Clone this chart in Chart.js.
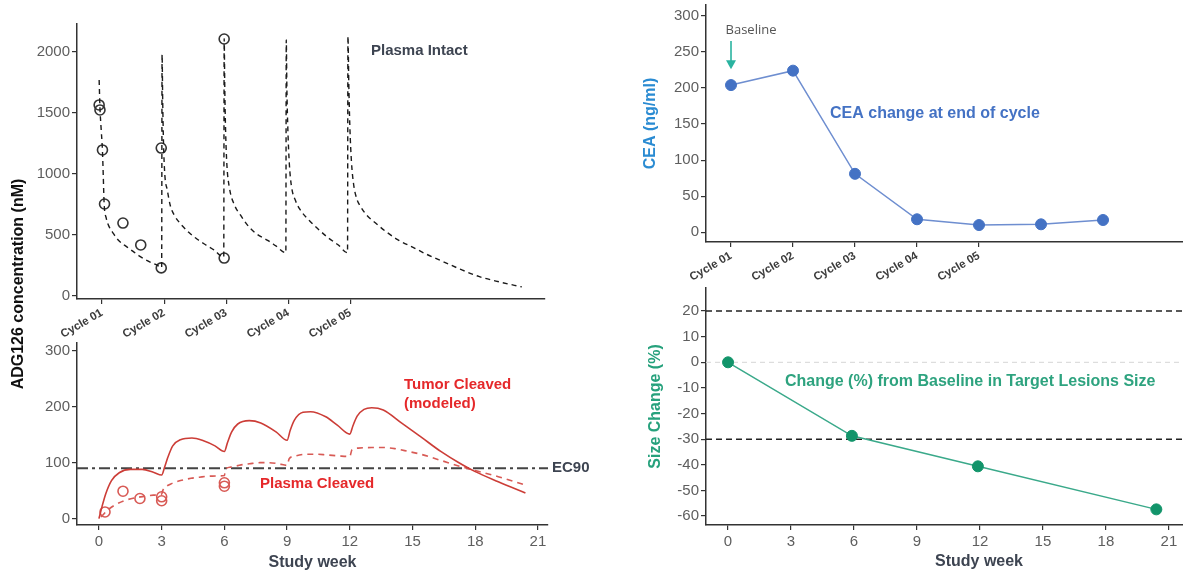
<!DOCTYPE html>
<html><head><meta charset="utf-8">
<script src="https://cdn.jsdelivr.net/npm/chart.js@4.4.1/dist/chart.umd.min.js"></script>
<style>
html,body{margin:0;padding:0;background:#fff;width:1183px;height:579px;overflow:hidden;}
canvas{position:absolute;left:0;top:0;}
</style></head><body>
<canvas id="tl" width="1183" height="579"></canvas>
<canvas id="bl" width="1183" height="579"></canvas>
<canvas id="tr" width="1183" height="579"></canvas>
<canvas id="br" width="1183" height="579"></canvas>
<script>
// ---------- DATA ----------
const cycleLabels = ['Cycle 01', 'Cycle 02', 'Cycle 03', 'Cycle 04', 'Cycle 05'];
const cycleWeeks = [0, 3, 6, 9, 12];
const weekTicks = [0, 3, 6, 9, 12, 15, 18, 21];

const intactTicks = [0, 500, 1000, 1500, 2000];
const intactModelWeeks = [-0.14, -0.1, -0.04, 0.02, 0.06, 0.1, 0.2, 0.35, 0.53, 0.78, 1.2, 1.5, 1.85, 2.3, 2.64, 2.88,
  2.9, 2.93, 2.97, 3.03, 3.15, 3.3, 3.5, 3.8, 4.2, 4.6, 5.0, 5.4, 5.88,
  5.9, 5.93, 5.97, 6.03, 6.15, 6.4, 6.7, 7.1, 7.5, 8.0, 8.4, 8.88,
  8.9, 8.93, 8.98, 9.05, 9.15, 9.35, 9.6, 10.0, 10.4, 10.9, 11.4, 11.86,
  11.88, 11.92, 11.97, 12.05, 12.15, 12.3, 12.5, 12.8, 13.2, 13.7, 14.3, 15.0, 15.7, 16.5, 17.3, 18.2, 19.2, 20.28];
const intactModelValues = [1770, 1540, 1360, 1190, 980, 760, 640, 565, 516, 459, 402, 365, 322, 280, 254, 232,
  1980, 1600, 1250, 1000, 870, 740, 660, 590, 520, 465, 420, 378, 318,
  2110, 1700, 1350, 1080, 890, 745, 660, 566, 505, 456, 410, 355,
  2100, 1700, 1350, 1080, 900, 780, 700, 620, 555, 480, 420, 355,
  2130, 1750, 1400, 1100, 920, 800, 730, 660, 600, 530, 460, 400, 340, 280, 220, 160, 115, 74];
const intactObsWeeks = [-0.14, -0.1, 0.02, 0.12, 1.01, 1.87, 2.86, 2.86, 5.9, 5.9];
const intactObsValues = [1566, 1525, 1197, 754, 598, 418, 230, 1213, 311, 2107];

const cleavedTicks = [0, 100, 200, 300];
const tumorWeeks = [0, 0.15, 0.33, 0.6, 0.97, 1.5, 2.07, 2.6, 3.0, 3.15, 3.3, 3.53, 3.9, 4.45, 5.0, 5.55, 6.0,
  6.15, 6.35, 6.64, 7.19, 7.74, 8.47, 9.0, 9.15, 9.35, 9.76, 10.12, 10.85, 11.4, 12.0,
  12.15, 12.35, 12.68, 13.05, 13.6, 14.5, 15.4, 16.35, 17.3, 18.0, 19.1, 20.4];
const tumorValues = [0, 22, 45, 68, 82, 88, 88, 83, 78, 93, 110, 130, 141, 144, 139, 130, 120,
  136, 155, 169, 175, 171, 155, 140, 158, 176, 190, 191, 182, 167, 151,
  166, 183, 195, 198, 194, 170, 146, 120, 98, 84, 66, 46];
const plasmaWeeks = [0.1, 0.4, 0.79, 1.2, 1.7, 2.2, 2.6, 3.0, 3.05, 3.2, 3.5, 3.9, 4.4, 4.8, 5.4, 6.0,
  6.05, 6.3, 6.8, 7.2, 7.7, 8.1, 8.6, 9.0, 9.1, 9.3, 9.94, 10.4, 10.85, 11.5, 12.0,
  12.1, 12.4, 13.05, 13.6, 14.15, 14.8, 15.4, 16.1, 16.7, 17.3, 18.0, 19.1, 20.4];
const plasmaValues = [3, 15, 25, 32, 37, 40, 42, 44, 50, 57, 63, 68, 72, 74, 76, 77,
  88, 92, 96, 98, 100, 100, 98, 95, 107, 111, 115, 115, 114, 112, 111,
  123, 126, 127, 127, 125, 120, 115, 107, 100, 93, 86, 75, 60];
const plasmaObsWeeks = [0.29, 1.15, 1.96, 3.0, 3.0, 6.0, 6.0];
const plasmaObsValues = [12, 49, 36, 39, 32, 64, 58];
const ec90Value = 90;

const ceaTicks = [0, 50, 100, 150, 200, 250, 300];
const ceaWeeks = [0, 3, 6, 9, 12, 15, 18];
const ceaValues = [204, 224, 81, 18, 10, 11, 17];

const sizeTicks = [20, 10, 0, -10, -20, -30, -40, -50, -60];
const sizeWeeks = [0, 5.9, 11.9, 20.4];
const sizeValues = [0, -28.7, -40.6, -57.4];
const sizeRefLines = [20, -30];

// ---------- HELPERS ----------
const FAM = "'Liberation Sans', Arial, sans-serif";
Chart.defaults.font.family = FAM;
const pts = (xs, ys) => xs.map((x, i) => ({x: x, y: ys[i]}));
const setTicks = vals => scale => { scale.ticks = vals.map(v => ({value: v})); };
const fixW = w => s => { s.width = w; s.paddingTop = 0; s.paddingBottom = 0; s.paddingLeft = 0; s.paddingRight = 0; };
const fixH = h => s => { s.height = h; s.paddingTop = 0; s.paddingBottom = 0; s.paddingLeft = 0; s.paddingRight = 0; };

const annot = {
  id: 'annot',
  beforeDatasetsDraw(chart, args, o) {
    const ctx = chart.ctx, a = chart.chartArea, ys = chart.scales.y;
    (o.hlines || []).forEach(h => {
      const y = ys.getPixelForValue(h.value);
      ctx.save();
      ctx.strokeStyle = h.color; ctx.lineWidth = h.width; ctx.setLineDash(h.dash);
      ctx.beginPath(); ctx.moveTo(a.left, y); ctx.lineTo(a.right, y); ctx.stroke();
      ctx.restore();
    });
  },
  afterDraw(chart, args, o) {
    const ctx = chart.ctx;
    (o.arrows || []).forEach(r => {
      const x = chart.scales.x.getPixelForValue(r.x);
      const y1 = chart.scales.y.getPixelForValue(r.from), y2 = chart.scales.y.getPixelForValue(r.to);
      ctx.save();
      ctx.strokeStyle = r.color; ctx.fillStyle = r.color; ctx.lineWidth = 1.6;
      ctx.beginPath(); ctx.moveTo(x, y1); ctx.lineTo(x, y2 - 8); ctx.stroke();
      ctx.beginPath(); ctx.moveTo(x - 5, y2 - 9); ctx.lineTo(x + 5, y2 - 9); ctx.lineTo(x, y2); ctx.closePath(); ctx.fill();
      ctx.restore();
    });
    (o.texts || []).forEach(t => {
      ctx.save();
      ctx.font = t.font; ctx.fillStyle = t.color;
      ctx.textAlign = t.align || 'left'; ctx.textBaseline = 'middle';
      ctx.translate(t.x, t.y);
      if (t.rot) ctx.rotate(t.rot);
      ctx.fillText(t.text, 0, 0);
      ctx.restore();
    });
  }
};
Chart.register(annot);

const AX = '#333';
function axis(extra) {
  const base = {
    type: 'linear',
    border: {display: true, color: AX, width: 1.5},
    grid: {display: true, drawOnChartArea: false, drawTicks: true, tickLength: 5, color: AX, lineWidth: 1.2},
    ticks: {color: '#5e5e5e', font: {size: 15}, padding: 2, autoSkip: false, callback: v => String(v)}
  };
  return Object.assign(base, extra, {
    ticks: Object.assign(base.ticks, extra.ticks || {})
  });
}
const cycleTickOpts = {color: '#3c3c3c', font: {size: 11.5, weight: 'bold'}, minRotation: 30, maxRotation: 30, padding: 2,
  callback: (v, i) => cycleLabels[i]};
const baseOpts = {responsive: false, animation: false, devicePixelRatio: 1,
  plugins: {legend: {display: false}, tooltip: {enabled: false}}};

function opts(layoutPad, scales, annotOpts) {
  return Object.assign({}, baseOpts, {
    layout: {padding: layoutPad, autoPadding: false},
    scales: scales,
    plugins: Object.assign({}, baseOpts.plugins, {annot: annotOpts})
  });
}

// ---------- TOP LEFT: Plasma intact ----------
new Chart(document.getElementById('tl'), {
  type: 'scatter',
  data: {datasets: [
    {data: pts(intactModelWeeks, intactModelValues), showLine: true, pointRadius: 0, borderColor: '#1a1a1a',
     borderWidth: 1.4, borderDash: [5, 4], cubicInterpolationMode: 'monotone'},
    {data: pts(intactObsWeeks, intactObsValues), showLine: false, pointRadius: 5, pointBorderWidth: 1.6,
     pointBorderColor: '#333', pointBackgroundColor: 'rgba(255,255,255,0)'}
  ]},
  options: opts({left: 17, top: 24, right: 638, bottom: 240}, {
    x: axis({min: -1.21, max: 21.4, afterBuildTicks: setTicks(cycleWeeks), afterFit: fixH(40), ticks: cycleTickOpts}),
    y: axis({min: -25, max: 2230, afterBuildTicks: setTicks(intactTicks), afterFit: fixW(60)})
  }, {
    texts: [
      {text: 'Plasma Intact', x: 371, y: 51, font: `bold 15px ${FAM}`, color: '#3d4451'},
      {text: 'ADG126 concentration (nM)', x: 19, y: 284, rot: -Math.PI / 2, align: 'center', font: `bold 16px ${FAM}`, color: '#111'}
    ]
  })
});

// ---------- BOTTOM LEFT: Cleaved ----------
new Chart(document.getElementById('bl'), {
  type: 'scatter',
  data: {datasets: [
    {data: pts(tumorWeeks, tumorValues), showLine: true, pointRadius: 0, borderColor: '#cc3d37',
     borderWidth: 1.6, cubicInterpolationMode: 'monotone'},
    {data: pts(plasmaWeeks, plasmaValues), showLine: true, pointRadius: 0, borderColor: '#d85a55',
     borderWidth: 1.6, borderDash: [6, 5], cubicInterpolationMode: 'monotone'},
    {data: pts(plasmaObsWeeks, plasmaObsValues), showLine: false, pointRadius: 5, pointBorderWidth: 1.6,
     pointBorderColor: '#d85a55', pointBackgroundColor: 'rgba(255,255,255,0)'}
  ]},
  options: opts({left: 17, top: 343, right: 635, bottom: 0}, {
    x: axis({min: -1.05, max: 21.48, afterBuildTicks: setTicks(weekTicks), afterFit: fixH(54),
      ticks: {padding: 3},
      title: {display: true, text: 'Study week', color: '#3d4451', font: {size: 16, weight: 'bold'}, padding: {top: 0, bottom: 7}}}),
    y: axis({min: -11.3, max: 313.6, afterBuildTicks: setTicks(cleavedTicks), afterFit: fixW(60)})
  }, {
    hlines: [{value: ec90Value, color: '#444', width: 2, dash: [11, 4, 3, 4]}],
    texts: [
      {text: 'Tumor Cleaved', x: 404, y: 385, font: `bold 15px ${FAM}`, color: '#e5282a'},
      {text: '(modeled)', x: 404, y: 404, font: `bold 15px ${FAM}`, color: '#e5282a'},
      {text: 'Plasma Cleaved', x: 260, y: 484, font: `bold 15px ${FAM}`, color: '#e5282a'},
      {text: 'EC90', x: 552, y: 468, font: `bold 15px ${FAM}`, color: '#3d4451'}
    ]
  })
});

// ---------- TOP RIGHT: CEA ----------
new Chart(document.getElementById('tr'), {
  type: 'scatter',
  data: {datasets: [
    {data: pts(ceaWeeks, ceaValues), showLine: true, borderColor: '#6e8ed0', borderWidth: 1.5,
     pointRadius: 5.5, pointBackgroundColor: '#4472c4', pointBorderColor: '#4472c4', pointBorderWidth: 1}
  ]},
  options: opts({left: 635, top: 5, right: 0, bottom: 297}, {
    x: axis({min: -1.21, max: 21.87, afterBuildTicks: setTicks(cycleWeeks), afterFit: fixH(40), ticks: cycleTickOpts}),
    y: axis({min: -13.5, max: 315, afterBuildTicks: setTicks(ceaTicks), afterFit: fixW(71),
      title: {display: true, text: 'CEA (ng/ml)', color: '#2a8bd2', font: {size: 16, weight: 'bold'}, padding: {top: 6, bottom: 0}}})
  }, {
    arrows: [{x: 0, from: 265, to: 226, color: '#2ab3a0'}],
    texts: [
      {text: 'Baseline', x: 751, y: 30, align: 'center', font: `13px 'Open Sans', ${FAM}`, color: '#555'},
      {text: 'CEA change at end of cycle', x: 830, y: 114, font: `bold 16px ${FAM}`, color: '#4472c4'}
    ]
  })
});

// ---------- BOTTOM RIGHT: Size change ----------
new Chart(document.getElementById('br'), {
  type: 'scatter',
  data: {datasets: [
    {data: pts(sizeWeeks, sizeValues), showLine: true, borderColor: '#3aa98a', borderWidth: 1.5,
     pointRadius: 5.5, pointBackgroundColor: '#12946a', pointBorderColor: '#12946a', pointBorderWidth: 1}
  ]},
  options: opts({left: 640, top: 288, right: 0, bottom: 0}, {
    x: axis({min: -1.05, max: 21.67, afterBuildTicks: setTicks(weekTicks), afterFit: fixH(54), ticks: {padding: 3}}),
    y: axis({min: -63.5, max: 29, afterBuildTicks: setTicks(sizeTicks), afterFit: fixW(66),
      title: {display: true, text: 'Size Change (%)', color: '#26a17c', font: {size: 16, weight: 'bold'}, padding: {top: 6, bottom: 0}}})
  }, {
    hlines: [
      {value: 0, color: '#dddddd', width: 1.2, dash: [5, 4]},
      {value: sizeRefLines[0], color: '#222', width: 1.5, dash: [6, 4]},
      {value: sizeRefLines[1], color: '#222', width: 1.5, dash: [6, 4]}
    ],
    texts: [
      {text: 'Change (%) from Baseline in Target Lesions Size', x: 785, y: 382, font: `bold 16px ${FAM}`, color: '#2ea37f'},
      {text: 'Study week', x: 979, y: 562, align: 'center', font: `bold 16px ${FAM}`, color: '#3d4451'}
    ]
  })
});
</script>
</body></html>
